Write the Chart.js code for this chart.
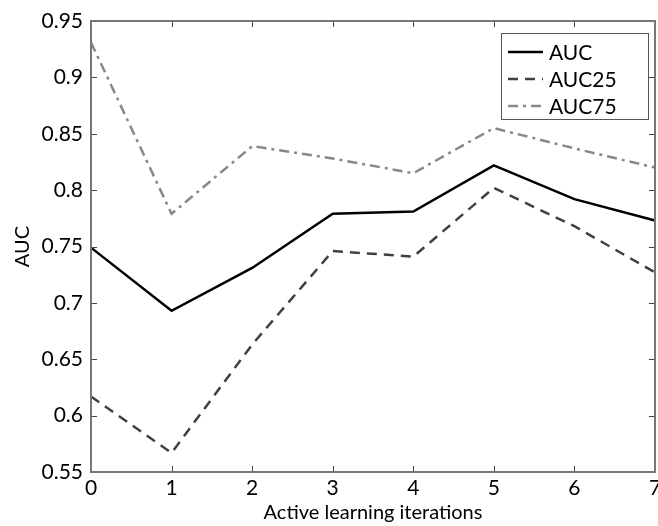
<!DOCTYPE html>
<html>
<head>
<meta charset="utf-8">
<script src="https://cdn.jsdelivr.net/npm/chart.js@4"></script>
<style>
  html, body { margin: 0; padding: 0; background: #fff; }
  #wrap { width: 658px; height: 526px; }
</style>
</head>
<body>
<div id="wrap"><canvas id="aucChart" width="658" height="526"></canvas></div>
<script>
// values
const iterations = ['0', '1', '2', '3', '4', '5', '6', '7'];
const auc   = [0.749, 0.693, 0.731, 0.779, 0.781, 0.822, 0.792, 0.773];
const auc25 = [0.617, 0.567, 0.663, 0.746, 0.741, 0.802, 0.768, 0.727];
const auc75 = [0.931, 0.779, 0.839, 0.828, 0.815, 0.855, 0.837, 0.820];
const yTicks = [0.55, 0.6, 0.65, 0.7, 0.75, 0.8, 0.85, 0.9, 0.95];

const tickFont = { family: 'Lato', size: 21 };
const titleFont = { family: 'Lato', size: 20 };

// inward tick marks on all four sides, like the original
const boxTicks = {
    id: 'boxTicks',
    afterDatasetsDraw(chart) {
        const { ctx, chartArea: a, scales } = chart;
        ctx.save();
        ctx.strokeStyle = '#444';
        ctx.lineWidth = 1;
        ctx.beginPath();
        scales.x.ticks.forEach((t, i) => {
            const px = Math.round(scales.x.getPixelForTick(i)) + 0.5;
            ctx.moveTo(px, a.bottom); ctx.lineTo(px, a.bottom - 6);
            ctx.moveTo(px, a.top); ctx.lineTo(px, a.top + 6);
        });
        scales.y.ticks.forEach((t, i) => {
            const py = Math.round(scales.y.getPixelForTick(i)) + 0.5;
            ctx.moveTo(a.left, py); ctx.lineTo(a.left + 6, py);
            ctx.moveTo(a.right, py); ctx.lineTo(a.right - 6, py);
        });
        ctx.stroke();
        // frame
        ctx.strokeStyle = '#777';
        ctx.lineWidth = 2;
        ctx.strokeRect(a.left, a.top, a.right - a.left, a.bottom - a.top);
        ctx.restore();
    }
};

// legend box in the upper right corner
const innerLegend = {
    id: 'innerLegend',
    afterDraw(chart) {
        const { ctx } = chart;
        const x = 501, y = 33, w = 147, h = 86;
        ctx.save();
        ctx.fillStyle = '#fff';
        ctx.fillRect(x, y, w, h);
        ctx.strokeStyle = '#555';
        ctx.lineWidth = 1;
        ctx.strokeRect(x + 0.5, y + 0.5, w, h);
        ctx.font = '21px Lato';
        ctx.textBaseline = 'middle';
        chart.data.datasets.forEach((ds, i) => {
            const ly = y + 19 + i * 27;
            ctx.strokeStyle = ds.borderColor;
            ctx.lineWidth = ds.borderWidth;
            ctx.setLineDash(ds.borderDash || []);
            ctx.beginPath();
            ctx.moveTo(x + 7, ly);
            ctx.lineTo(x + 42, ly);
            ctx.stroke();
            ctx.setLineDash([]);
            ctx.fillStyle = '#000';
            ctx.fillText(ds.label, x + 48, ly + 1);
        });
        ctx.restore();
    }
};

const ctx = document.getElementById('aucChart').getContext('2d');
new Chart(ctx, {
    type: 'line',
    data: {
        labels: iterations,
        datasets: [
            { label: 'AUC', data: auc, borderColor: '#000', borderWidth: 2.5, pointRadius: 0, tension: 0 },
            { label: 'AUC25', data: auc25, borderColor: '#404040', borderWidth: 2.5, borderDash: [10, 7], pointRadius: 0, tension: 0 },
            { label: 'AUC75', data: auc75, borderColor: '#888', borderWidth: 2.5, borderDash: [10, 5, 3, 5], pointRadius: 0, tension: 0 }
        ]
    },
    options: {
        responsive: false,
        animation: false,
        layout: { autoPadding: false, padding: { top: 21, right: 3, left: 0, bottom: 0 } },
        plugins: { legend: { display: false }, tooltip: { enabled: false } },
        scales: {
            x: {
                offset: false,
                grid: { display: false, drawTicks: false },
                border: { display: false },
                ticks: { color: '#000', font: tickFont, padding: 4, maxRotation: 0, autoSkip: false },
                title: { display: true, text: 'Active learning iterations', color: '#000',
                         font: titleFont, padding: { top: 0, bottom: 1 } },
                afterFit(scale) { scale.height = 54; scale.paddingLeft = 0; scale.paddingRight = 0; }
            },
            y: {
                min: 0.55,
                max: 0.95,
                grid: { display: false, drawTicks: false },
                border: { display: false },
                afterBuildTicks(scale) { scale.ticks = yTicks.map(v => ({ value: v })); },
                ticks: {
                    color: '#000', font: tickFont, padding: 8,
                    callback: v => String(Math.round(v * 100) / 100)
                },
                title: { display: true, text: 'AUC', color: '#000',
                         font: titleFont, padding: { top: 11, bottom: 0 } },
                afterFit(scale) { scale.width = 91; scale.paddingTop = 0; scale.paddingBottom = 0; }
            }
        }
    },
    plugins: [boxTicks, innerLegend]
});
</script>
</body>
</html>
